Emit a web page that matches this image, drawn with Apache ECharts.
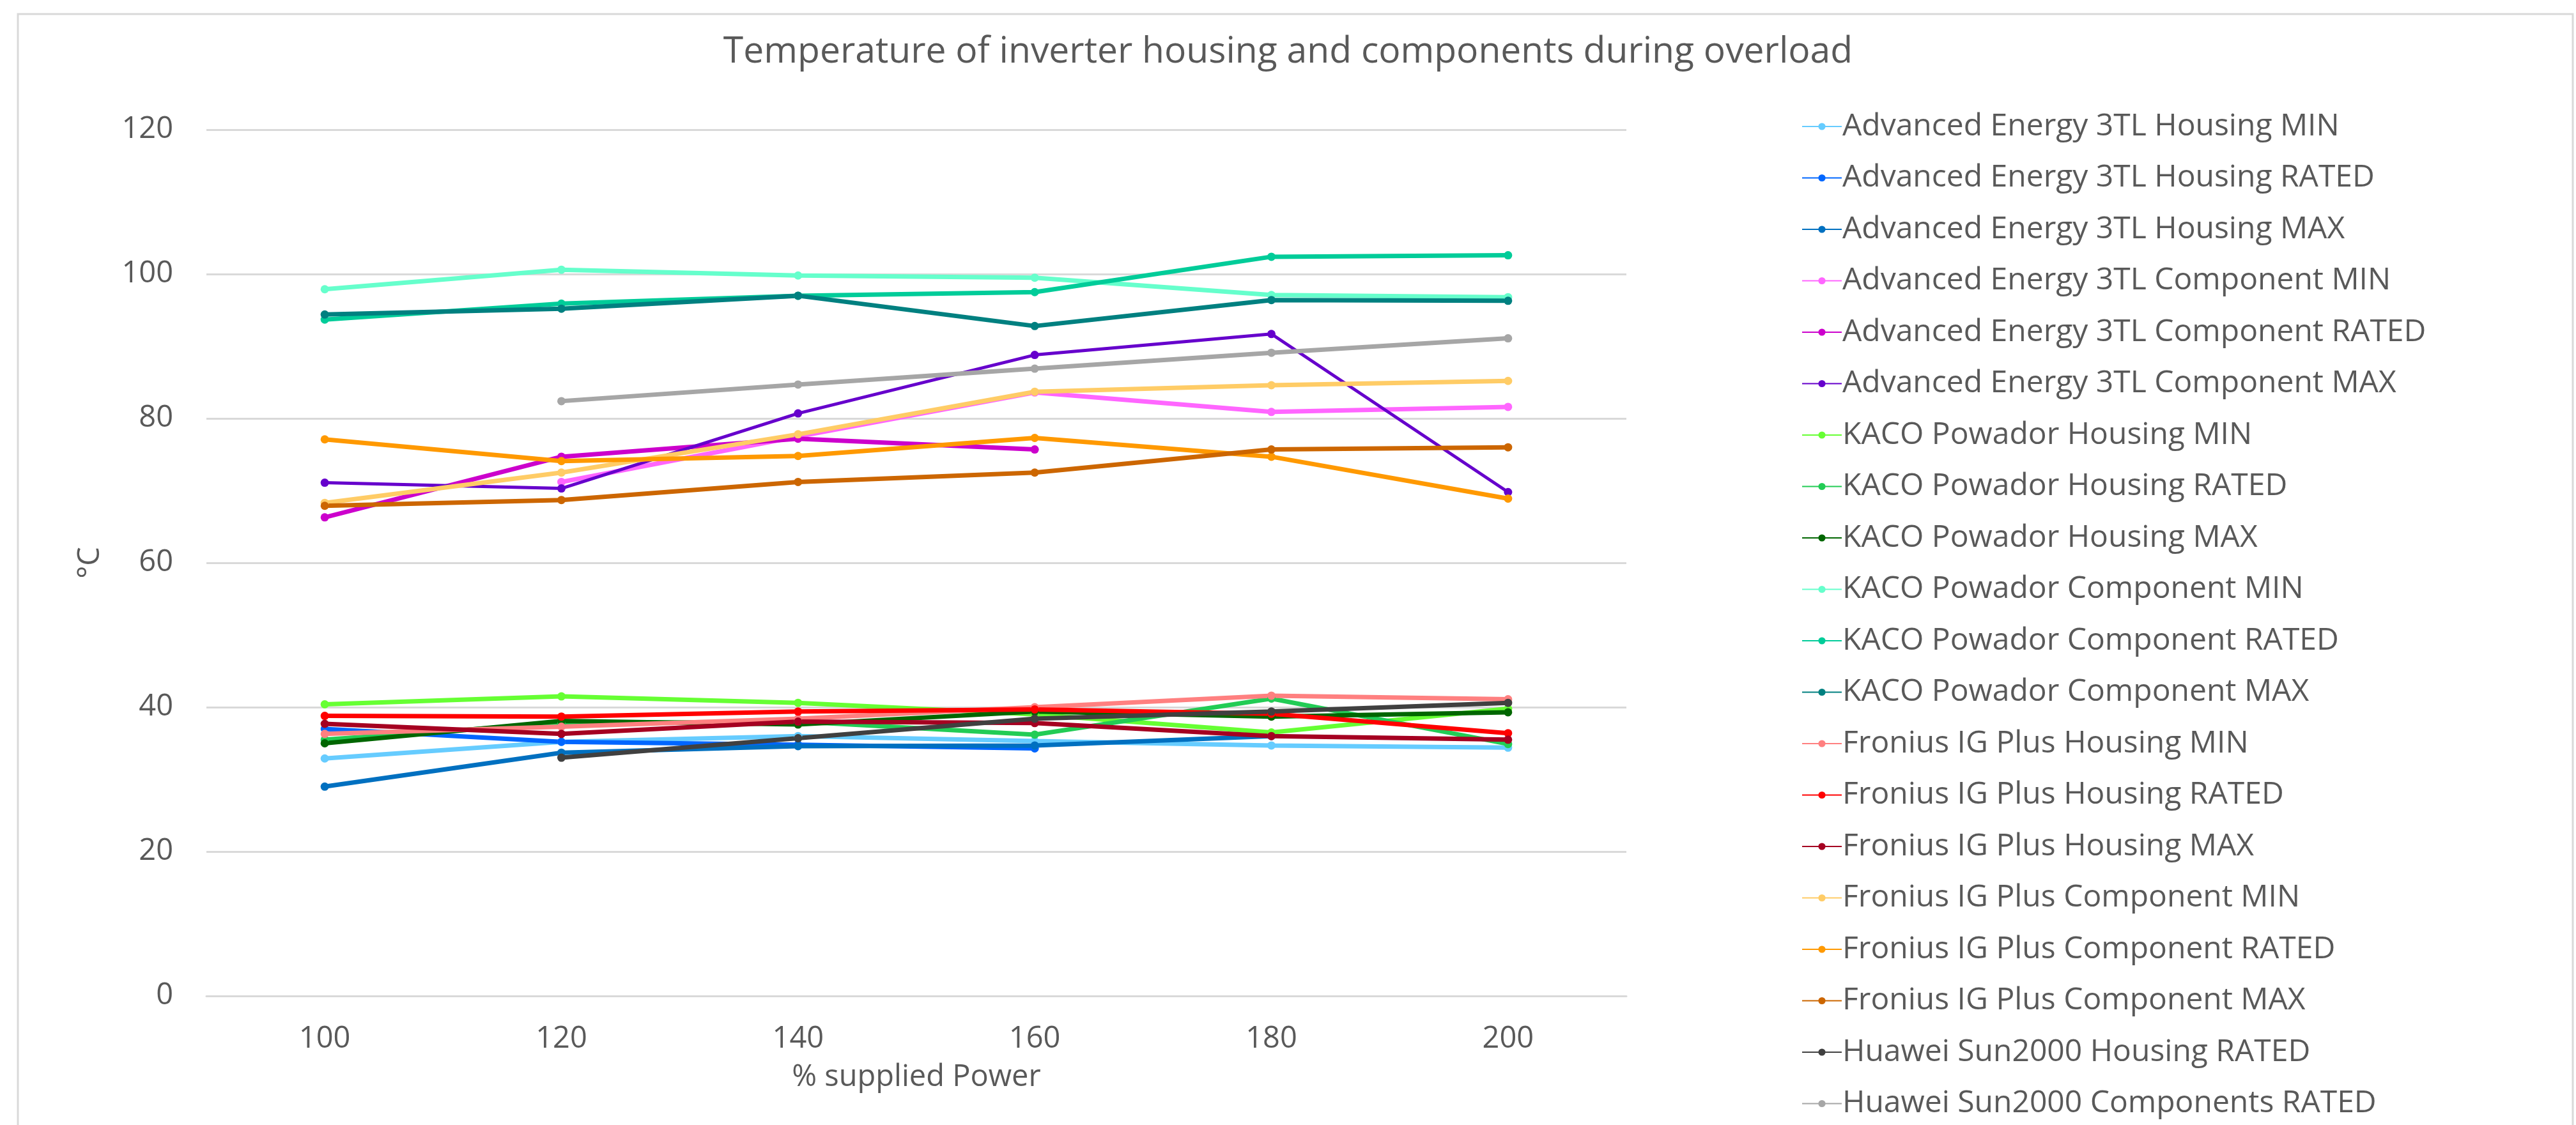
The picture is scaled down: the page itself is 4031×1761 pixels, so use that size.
<!DOCTYPE html>
<html lang="en">

<head>
    <meta charset="UTF-8">
    <title>Temperature of inverter housing and components during overload</title>
    <style>
        html, body { margin: 0; padding: 0; background: #fff; }
        #box { width: 4031px; height: 1761px; }
    </style>
    <script src="https://cdn.jsdelivr.net/npm/echarts@6/dist/echarts.min.js"></script>
</head>

<body>
    <div id="box"></div>
    <script>
        // x categories (% supplied power)
        const powerSteps = ['100', '120', '140', '160', '180', '200'];
        const yTicks = [0, 20, 40, 60, 80, 100, 120];

        // Advanced Energy 3TL
        const aeHousingMin = [32.9, 35.2, 36.0, 35.3, 34.7, 34.4];
        const aeHousingRated = [37.0, 35.2, 34.8, 34.3, null, null];
        const aeHousingMax = [29.0, 33.7, 34.6, 34.7, 36.0, null];
        const aeCompMin = [null, 71.2, 77.5, 83.6, 80.9, 81.6];
        const aeCompRated = [66.3, 74.7, 77.2, 75.7, null, null];
        const aeCompMax = [71.1, 70.3, 80.7, 88.8, 91.7, 69.8];

        // KACO Powador
        const kacoHousingMin = [40.4, 41.5, 40.6, 39.0, 36.5, 39.8];
        const kacoHousingRated = [35.5, 37.8, 38.0, 36.2, 41.2, 34.9];
        const kacoHousingMax = [35.0, 38.1, 37.6, 39.4, 38.7, 39.3];
        const kacoCompMin = [97.9, 100.6, 99.8, 99.5, 97.1, 96.8];
        const kacoCompRated = [93.7, 95.9, 97.0, 97.5, 102.4, 102.6];
        const kacoCompMax = [94.4, 95.2, 97.0, 92.8, 96.4, 96.3];

        // Fronius IG Plus
        const froHousingMin = [36.3, 37.3, 38.4, 40.0, 41.6, 41.1];
        const froHousingRated = [38.8, 38.7, 39.4, 39.7, 39.1, 36.4];
        const froHousingMax = [37.7, 36.3, 38.0, 37.8, 36.0, 35.5];
        const froCompMin = [68.3, 72.5, 77.8, 83.7, 84.6, 85.2];
        const froCompRated = [77.1, 74.1, 74.8, 77.3, 74.7, 68.9];
        const froCompMax = [67.9, 68.7, 71.2, 72.5, 75.7, 76.0];

        // Huawei Sun2000
        const huaweiHousingRated = [null, 33.0, 35.7, 38.4, 39.4, 40.6];
        const huaweiCompRated = [null, 82.4, 84.7, 86.9, 89.1, 91.1];

        const seriesList = [
            ['Advanced Energy 3TL Housing MIN', aeHousingMin, '#66ccff'],
            ['Advanced Energy 3TL Housing RATED', aeHousingRated, '#0066ff'],
            ['Advanced Energy 3TL Housing MAX', aeHousingMax, '#0070c0'],
            ['Advanced Energy 3TL Component MIN', aeCompMin, '#ff66ff'],
            ['Advanced Energy 3TL Component RATED', aeCompRated, '#cc00cc'],
            ['Advanced Energy 3TL Component MAX', aeCompMax, '#6600cc'],
            ['KACO Powador Housing MIN', kacoHousingMin, '#66ff33'],
            ['KACO Powador Housing RATED', kacoHousingRated, '#22cc55'],
            ['KACO Powador Housing MAX', kacoHousingMax, '#006600'],
            ['KACO Powador Component MIN', kacoCompMin, '#66ffcc'],
            ['KACO Powador Component RATED', kacoCompRated, '#00cc99'],
            ['KACO Powador Component MAX', kacoCompMax, '#008080'],
            ['Fronius IG Plus Housing MIN', froHousingMin, '#ff8080'],
            ['Fronius IG Plus Housing RATED', froHousingRated, '#ff0000'],
            ['Fronius IG Plus Housing MAX', froHousingMax, '#a50021'],
            ['Fronius IG Plus Component MIN', froCompMin, '#ffcc66'],
            ['Fronius IG Plus Component RATED', froCompRated, '#ff9900'],
            ['Fronius IG Plus Component MAX', froCompMax, '#cc6600'],
            ['Huawei Sun2000 Housing RATED', huaweiHousingRated, '#404040'],
            ['Huawei Sun2000 Components RATED', huaweiCompRated, '#a6a6a6']
        ];

        (function () {
            const font = 'Open Sans';
            const textColor = '#595959';

            let option = {
                animation: false,
                backgroundColor: '#fff',
                textStyle: { fontFamily: font },
                title: {
                    text: 'Temperature of inverter housing and components during overload',
                    left: 'center',
                    top: 48,
                    textStyle: { fontFamily: font, fontSize: 57, fontWeight: 'normal', color: textColor }
                },
                legend: {
                    orient: 'vertical',
                    left: 2814,
                    top: 168,
                    itemWidth: 62,
                    itemHeight: 14,
                    itemGap: 30.5,
                    textStyle: { fontFamily: font, fontSize: 48, color: textColor, lineHeight: 50, padding: [0, 0, 0, -4] },
                    data: seriesList.map(s => s[0])
                },
                grid: { left: 323, right: 1486, top: 203, bottom: 202, containLabel: false },
                xAxis: {
                    type: 'category',
                    data: powerSteps,
                    boundaryGap: true,
                    name: '% supplied Power',
                    nameLocation: 'middle',
                    nameGap: 104,
                    nameTextStyle: { fontFamily: font, fontSize: 47, color: textColor },
                    axisLine: { show: true, lineStyle: { color: '#d9d9d9', width: 3 } },
                    axisTick: { show: false },
                    axisLabel: { fontFamily: font, fontSize: 47, color: textColor, margin: 44 }
                },
                yAxis: {
                    type: 'value',
                    min: yTicks[0],
                    max: yTicks[yTicks.length - 1],
                    interval: 20,
                    name: '°C',
                    nameLocation: 'middle',
                    nameRotate: 90,
                    nameGap: 158,
                    nameTextStyle: { fontFamily: font, fontSize: 47, color: textColor },
                    axisLine: { show: false },
                    axisTick: { show: false },
                    splitLine: { lineStyle: { color: '#d9d9d9', width: 3 } },
                    axisLabel: { fontFamily: font, fontSize: 47, color: textColor, margin: 52 }
                },
                graphic: [{
                    type: 'rect',
                    shape: { x: 28, y: 22, width: 3998, height: 1800 },
                    style: { fill: 'none', stroke: '#d9d9d9', lineWidth: 3 },
                    silent: true
                }],
                series: seriesList.map(s => ({
                    name: s[0],
                    type: 'line',
                    data: s[1],
                    symbol: 'circle',
                    symbolSize: 13,
                    connectNulls: false,
                    itemStyle: { color: s[2] },
                    lineStyle: { color: s[2], width: s[0] === 'Advanced Energy 3TL Component MAX' ? 5 : 7 }
                }))
            };

            let chart = echarts.init(box);
            chart.setOption(option);
        })();
    </script>
</body>

</html>
